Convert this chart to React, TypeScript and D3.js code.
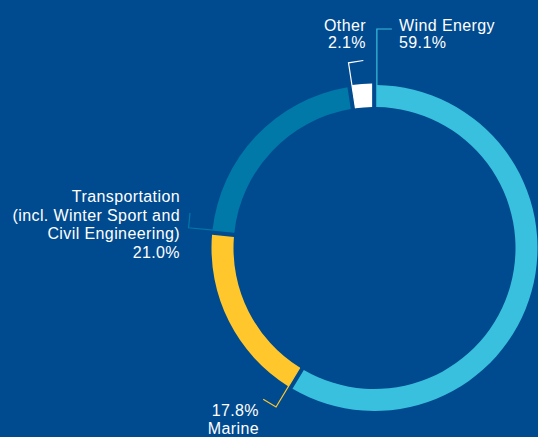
import React, { useEffect } from "react";
import * as d3 from "d3";

const categories = ["Wind Energy", "Marine", "Transportation", "Other"];
const shares = [59.1, 17.8, 21.0, 2.1];
const labelLines = [
  ["Wind Energy", "59.1%"],
  ["17.8%", "Marine"],
  ["Transportation", "(incl. Winter Sport and", "Civil Engineering)", "21.0%"],
  ["Other", "2.1%"],
];
const colors = ["#38c0de", "#ffc72c", "#0079a8", "#ffffff"];

const W = 538;
const H = 437;
const cx = 374.5;
const cy = 248;
const R = 163;
const r0 = 141;
const padAngle = 0.022;
const padR = Math.sqrt(R * R + r0 * r0);
const halfPad = (padR * padAngle) / 2;

// layout for annotations
const leaderOuter = [219, 187, 187, 187];
const tangentLen = 15;
const labelLayout = [
  { x: 399, y: 30.5, anchor: "start", lh: 17.8 },
  { x: 259, y: 416, anchor: "end", lh: 18 },
  { x: 180, y: 202, anchor: "end", lh: 18.7 },
  { x: 366, y: 30.5, anchor: "end", lh: 17.8 },
];

function edgePoint(a: number, r: number): [number, number] {
  return [
    cx + r * Math.sin(a) + halfPad * Math.cos(a),
    cy - r * Math.cos(a) + halfPad * Math.sin(a),
  ];
}

export default function App() {
  useEffect(() => {
    document.body.style.margin = "0";
  }, []);

  const pie = d3
    .pie<number>()
    .sort(null)
    .value((d) => d)
    .padAngle(padAngle);
  const arcs = pie(shares);
  const arcGen = d3
    .arc<d3.PieArcDatum<number>>()
    .innerRadius(r0)
    .padRadius(padR);

  const font = "'Liberation Sans', Arial, sans-serif";

  return (
    <svg
      width={W}
      height={H}
      style={{ display: "block", position: "absolute", left: 0, top: 0 }}
    >
      <rect x={0} y={0} width={W} height={H} fill="#004a8f" />
      {arcs.map((a, i) => {
        const outer = i === 3 ? R + 1.5 : R;
        const d = arcGen.outerRadius(outer)(a) as string;
        return (
          <path key={categories[i]} d={d} transform={`translate(${cx},${cy})`} fill={colors[i]} />
        );
      })}
      {arcs.map((a, i) => {
        const ang = a.startAngle;
        const p1 = edgePoint(ang, r0);
        const p2 = edgePoint(ang, leaderOuter[i]);
        const p3: [number, number] = [
          p2[0] + tangentLen * Math.cos(ang),
          p2[1] + tangentLen * Math.sin(ang),
        ];
        const line = d3.line()([p1, p2, p3]) as string;
        return (
          <path
            key={"l" + i}
            d={line}
            fill="none"
            stroke={colors[i]}
            strokeWidth={1.2}
          />
        );
      })}
      {labelLines.map((lines, i) => {
        const L = labelLayout[i];
        return (
          <text
            key={"t" + i}
            x={L.x}
            y={L.y}
            textAnchor={L.anchor as any}
            fill="#ffffff"
            fontFamily={font}
            fontSize={16}
            letterSpacing={0.4}
          >
            {lines.map((s, j) => (
              <tspan key={j} x={L.x} y={L.y + j * L.lh}>
                {s}
              </tspan>
            ))}
          </text>
        );
      })}
    </svg>
  );
}
